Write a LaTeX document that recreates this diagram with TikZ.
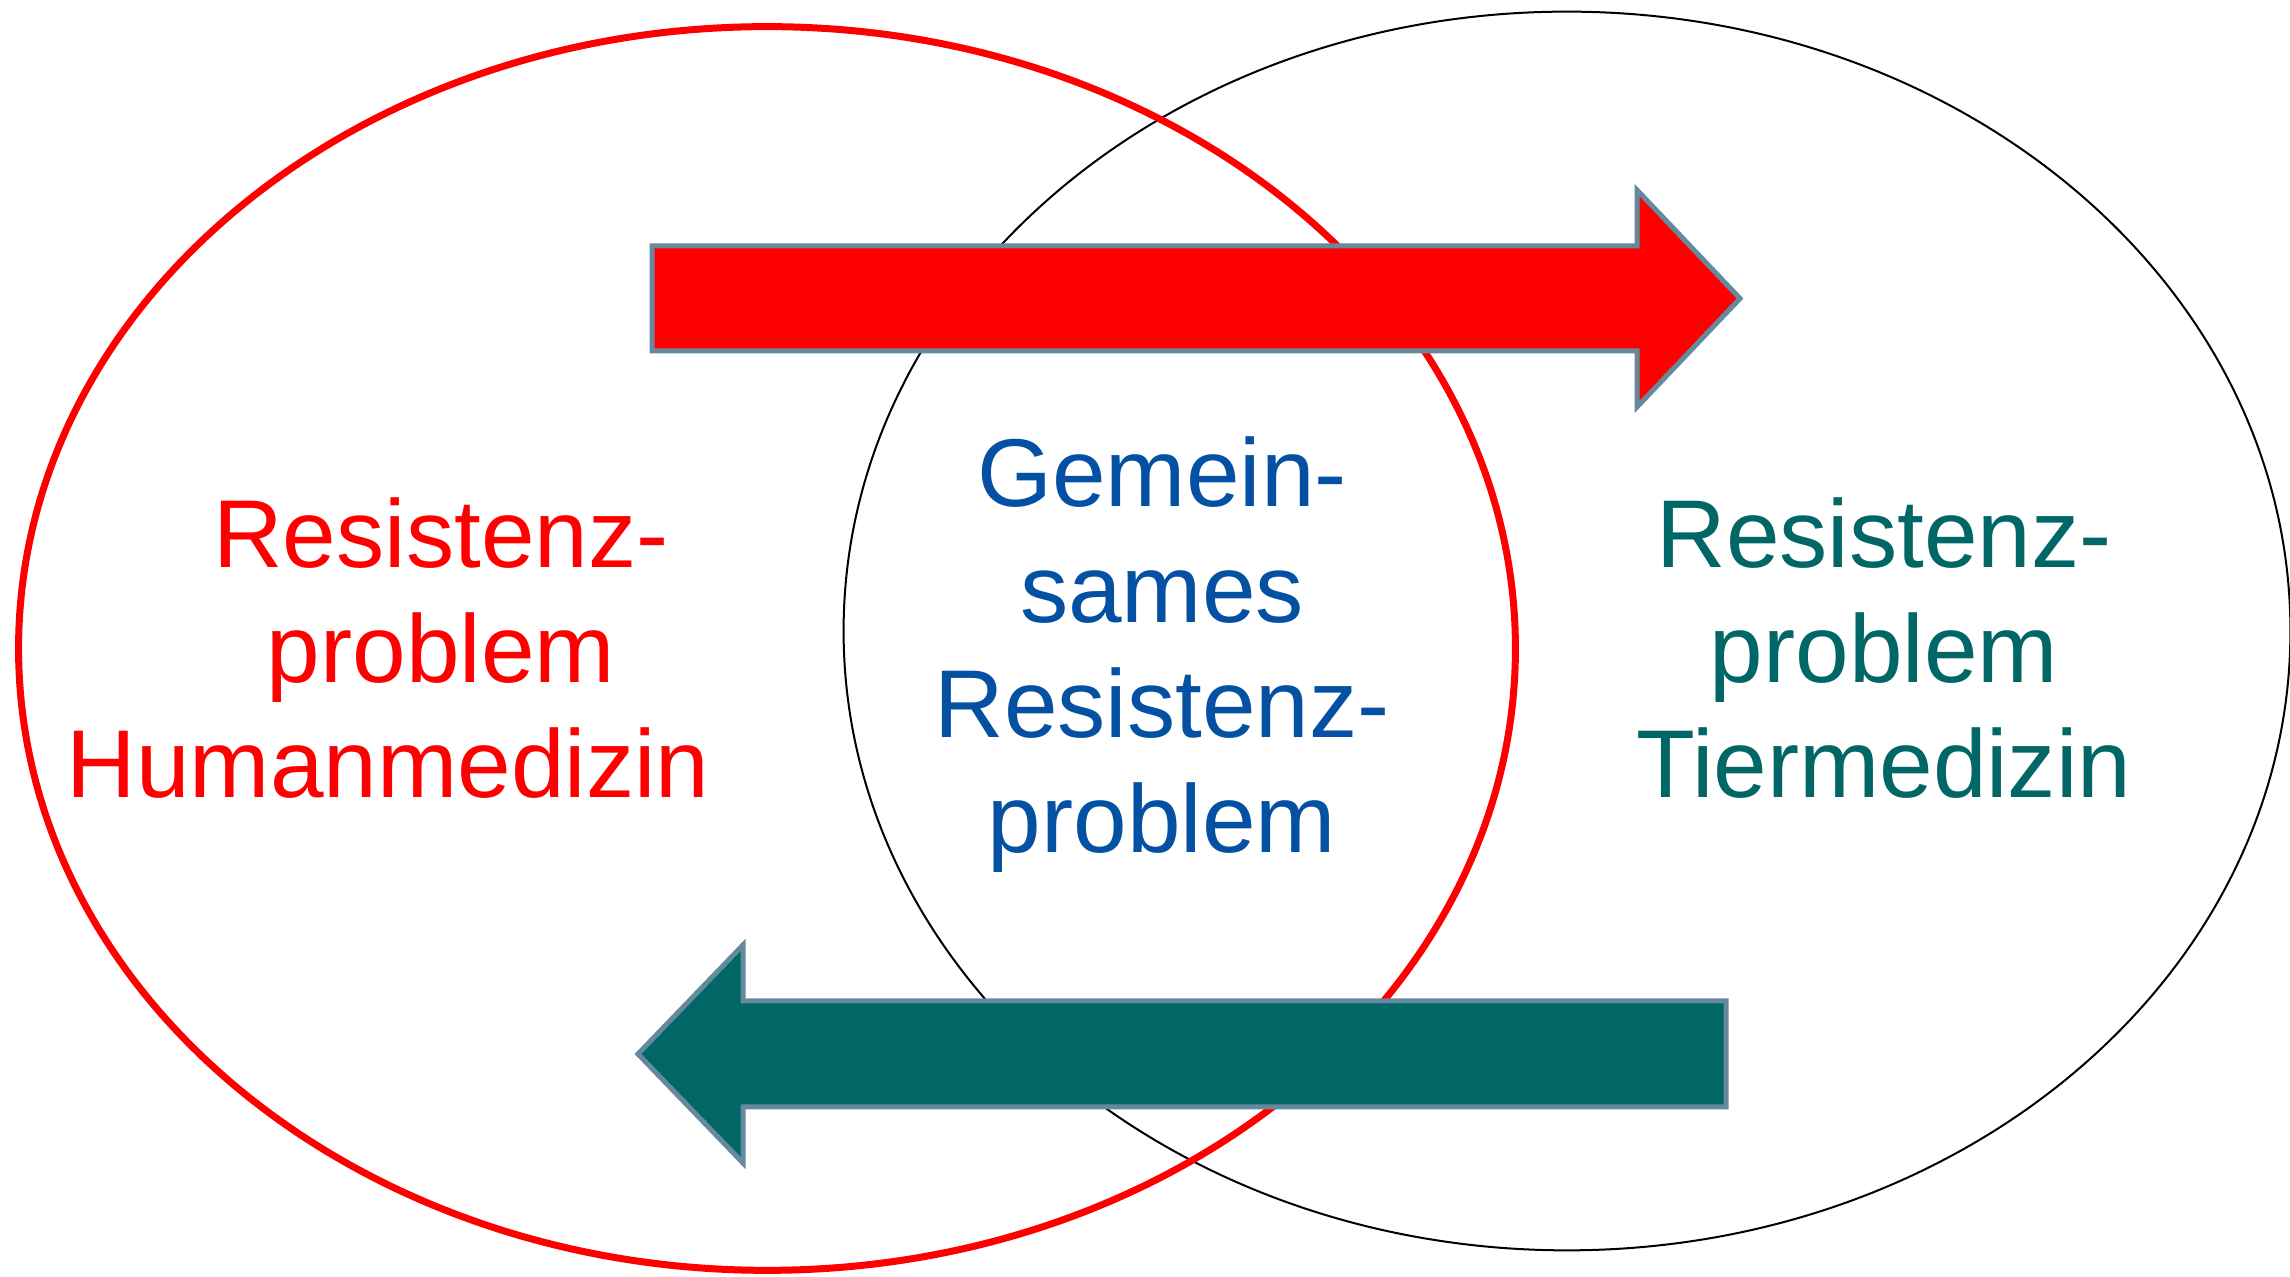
\documentclass[tikz,border=0pt]{standalone}
\usepackage{fontspec}
\setmainfont{Liberation Sans}
\definecolor{arrowgray}{RGB}{101,138,158}
\definecolor{tiergreen}{RGB}{0,102,102}
\definecolor{gemblue}{RGB}{4,80,162}

\begin{document}
\begin{tikzpicture}[
    x=0.01cm, y=-0.01cm,
    ring/.style={
        draw=black,
        line width=0.2mm
    },
    blockarrow/.style={
        draw=arrowgray,
        line width=0.5mm,
        line join=miter
    },
    label/.style={
        font=\fontsize{27.4}{32.8}\selectfont,
        align=center,
        inner sep=0pt,
        anchor=base
    }
  ]
  \useasboundingbox (0,0) rectangle (2290,1277);

  % the two fields
  \draw [ring] (1567,631) ellipse [x radius=7.23cm, y radius=6.19cm];
  \draw [ring, draw=red, line width=0.7mm] (767,648.5) ellipse [x radius=7.48cm, y radius=6.215cm];

  % arrows between them
  \filldraw [blockarrow, fill=red] (652,246) -- (1637,246) -- (1637,190) -- (1740,298.5)
    -- (1637,407) -- (1637,351) -- (652,351) -- cycle;
  \filldraw [blockarrow, fill=tiergreen] (1726,1001) -- (743,1001) -- (743,945) -- (638,1054)
    -- (743,1163) -- (743,1107) -- (1726,1107) -- cycle;

  % texts (base = last line)
  \node [label, text=red] (human) at (441,798) {Resistenz-\\problem\\Humanmedizin\hspace*{1.06cm}};
  \node [label, text=gemblue] (gemein) at (1162,853) {Gemein-\\sames\\Resistenz-\\problem};
  \node [label, text=tiergreen] (tier) at (1884,798) {Resistenz-\\problem\\Tiermedizin};

\end{tikzpicture}
\end{document}
